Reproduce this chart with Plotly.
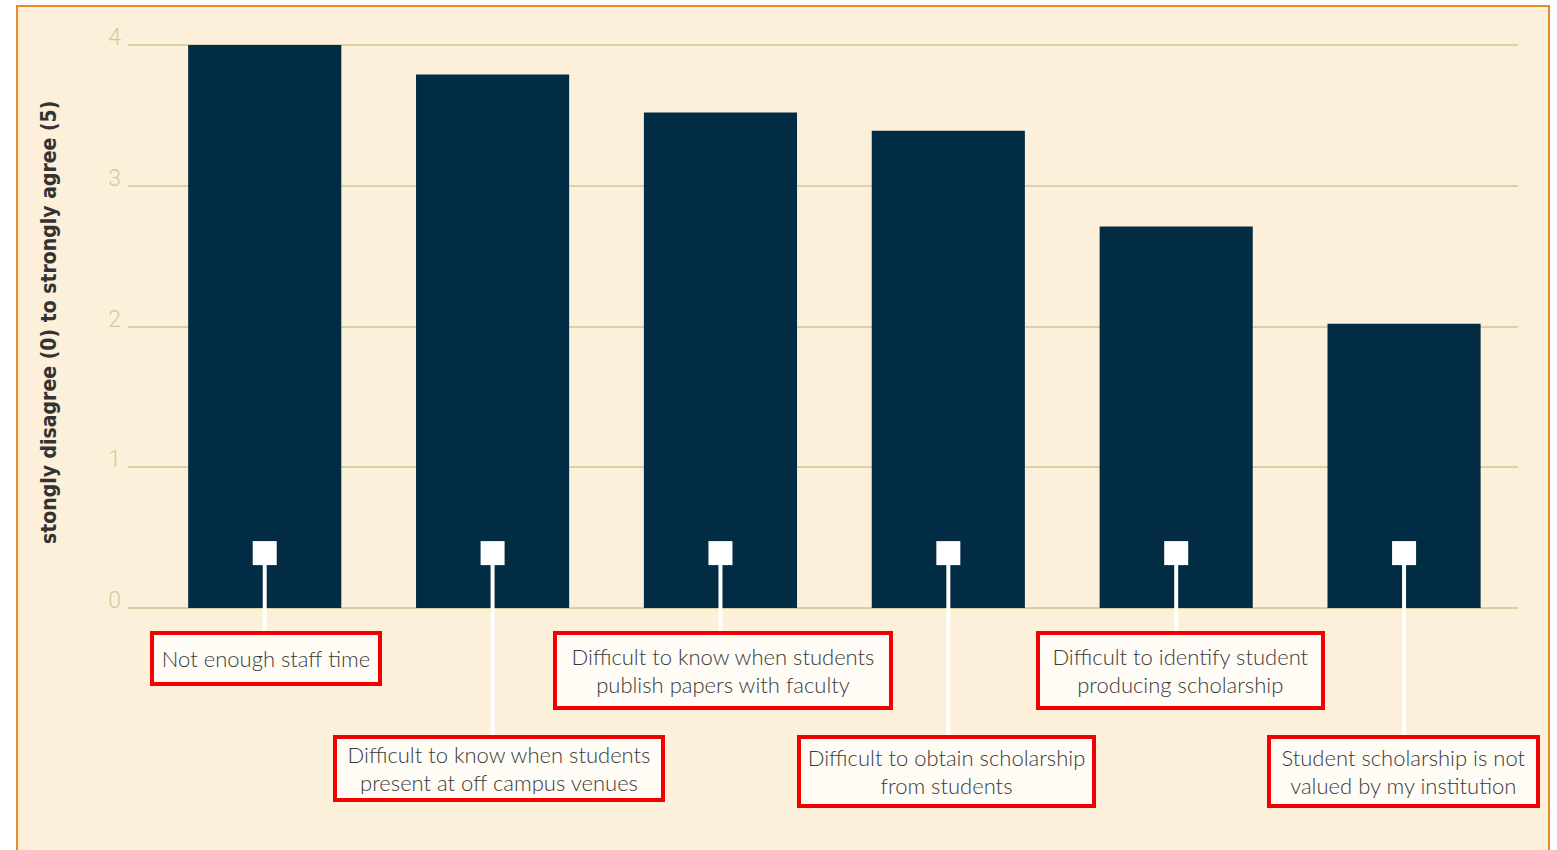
import plotly.graph_objects as go

categories = [
    "Not enough staff time",
    "Difficult to know when students<br>present at off campus venues",
    "Difficult to know when students<br>publish papers with faculty",
    "Difficult to obtain scholarship<br>from students",
    "Difficult to identify student<br>producing scholarship",
    "Student scholarship is not<br>valued by my institution",
]
scores = [4.0, 3.79, 3.52, 3.39, 2.71, 2.02]
label_row = [0, 1, 0, 1, 0, 1]
tick_vals = [0, 1, 2, 3, 4]
tick_text = ["0", "1", "2", "3", "4"]
y_title = "stongly disagree (0) to strongly agree (5)"

# label box styling (outer sizes and small horizontal nudges, px)
box_w = [232, 332, 340, 299, 289, 273]
box_h = [55, 67, 79, 73, 79, 73]
box_dx = [1, 6, 3, -2, 4, -1]

W, H = 1557, 850
OFF = 0
BG = "#FDF0DA"
BORDER = "#E98A2A"
BAR = "#022C44"
GRID = "#D9D2A6"
TICK = "#CFCB99"

marker_level = 0.39
row_top = {0: -0.165, 1: -0.90}

fig = go.Figure()

fig.add_trace(go.Bar(
    x=categories, y=scores, width=0.672,
    marker=dict(color=BAR, line=dict(width=0)),
    hoverinfo="skip", showlegend=False,
))

cx, cy = [], []
for c, r in zip(categories, label_row):
    cx += [c, c, None]
    cy += [marker_level, row_top[r] - 0.06, None]
fig.add_trace(go.Scatter(
    x=cx, y=cy, mode="lines",
    line=dict(color="white", width=4),
    hoverinfo="skip", showlegend=False, cliponaxis=False,
))
fig.add_trace(go.Scatter(
    x=categories, y=[marker_level] * len(categories), mode="markers",
    marker=dict(symbol="square", size=24, color="white", line=dict(width=0)),
    hoverinfo="skip", showlegend=False,
))

BW, BP = 4, 4
for c, r, bw, bh, dx in zip(categories, label_row, box_w, box_h, box_dx):
    fig.add_annotation(
        x=c, y=row_top[r], xref="x", yref="y", text=c, showarrow=False,
        xanchor="center", yanchor="top", xshift=dx,
        width=bw - 2 * (BW + BP), height=bh - 2 * (BW + BP),
        font=dict(family="Lato", size=22, color="#3a3a3a", weight=300),
        bgcolor="#FFFCF5", bordercolor="#F00000", borderwidth=BW, borderpad=BP,
        align="center", valign="middle",
    )

fig.add_annotation(
    x=(49 - OFF) / W, y=1 - (323 - OFF) / H, xref="paper", yref="paper",
    text="<b>" + y_title + "</b>", textangle=-90, showarrow=False,
    font=dict(family="DejaVu Sans Condensed, DejaVu Sans, sans-serif", size=21, color="#333333"),
    xanchor="center", yanchor="middle",
)

fig.add_shape(
    type="rect", xref="paper", yref="paper",
    x0=(17 - OFF) / W, x1=(1549 - OFF) / W, y0=-0.05, y1=1 - (6 - OFF) / H,
    fillcolor=BG, line=dict(color=BORDER, width=2), layer="below",
)

px_per_unit = (608 - 45) / 4.0
top_px = 45 - OFF
zero_px = 608 - OFF
fig.update_layout(
    width=W, height=H,
    margin=dict(l=0, r=0, t=0, b=0),
    paper_bgcolor="white", plot_bgcolor="rgba(0,0,0,0)",
    xaxis=dict(
        domain=[(128 - OFF) / W, (1518 - OFF) / W], range=[-0.6, 5.5],
        showticklabels=False, showgrid=False, zeroline=False, showline=False,
        fixedrange=True,
    ),
    yaxis=dict(
        domain=[0, 1],
        range=[-(H - zero_px) / px_per_unit, 4 + top_px / px_per_unit],
        tickvals=tick_vals, ticktext=tick_text,
        showgrid=True, gridcolor=GRID, gridwidth=2,
        zeroline=False, showline=False, ticks="",
        tickfont=dict(family="Roboto", size=23, color=TICK, weight=300),
        ticklabelshift=-8, ticklabelstandoff=6, fixedrange=True,
    ),
)

fig.write_html(
    "out.html",
    config={"displayModeBar": False},
    post_script="document.body.style.margin='0px';document.body.style.overflow='hidden';",
)
